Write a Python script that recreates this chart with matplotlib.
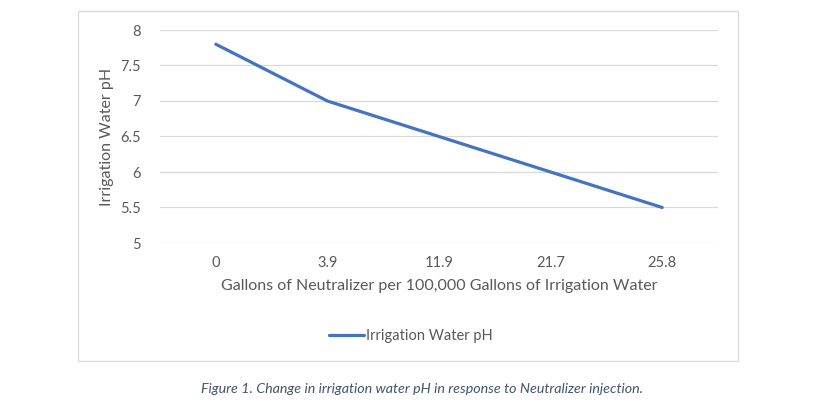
import matplotlib
matplotlib.use("Agg")
import matplotlib.pyplot as plt
from matplotlib.patches import Rectangle

# data
categories = ["0", "3.9", "11.9", "21.7", "25.8"]
ph_values = [7.8, 7.0, 6.5, 6.0, 5.5]
y_ticks = [5, 5.5, 6, 6.5, 7, 7.5, 8]
y_tick_labels = ["5", "5.5", "6", "6.5", "7", "7.5", "8"]

plt.rcParams['font.family'] = ['Lato', 'DejaVu Sans']

fig = plt.figure(figsize=(8.32, 4.11), dpi=100)

# chart border box
fig.patches.append(Rectangle((78 / 832, 1 - 361 / 411), 660 / 832, 350 / 411,
                             transform=fig.transFigure, fill=False,
                             edgecolor="#D9D9D9", linewidth=0.9))

ax = fig.add_axes([160 / 832, 1 - 243 / 411, 558 / 832, 213 / 411])
x = list(range(len(categories)))
ax.plot(x, ph_values, color="#4472C4", linewidth=2.3,
        solid_capstyle="round", label="Irrigation Water pH")

ax.set_xlim(-0.5, len(categories) - 0.5)
ax.set_ylim(5, 8)
ax.set_xticks(x)
ax.set_xticklabels(categories)
ax.set_yticks(y_ticks)
ax.set_yticklabels(y_tick_labels)
ax.tick_params(length=0, labelsize=10.5, colors="#595959", pad=9)
ax.tick_params(axis="y", pad=14)
ax.grid(axis="y", color="#D9D9D9", linewidth=0.9)
ax.set_axisbelow(True)
for s in ax.spines.values():
    s.set_visible(False)

ax.set_xlabel("Gallons of Neutralizer per 100,000 Gallons of Irrigation Water",
              fontsize=11.5, color="#595959", labelpad=7)
ax.set_ylabel("Irrigation Water pH", fontsize=11.5, color="#595959", labelpad=4)

fig.legend(loc="center", bbox_to_anchor=(0.494, 1 - 336 / 411), frameon=False,
           fontsize=10.5, labelcolor="#595959", handlelength=2.4, handletextpad=0.1)

fig.text(0.507, 1 - 389 / 411,
         "Figure 1. Change in irrigation water pH in response to Neutralizer injection.",
         ha="center", va="center", fontsize=10.3, style="italic", color="#44546A")

fig.savefig("out.png", dpi=100)
